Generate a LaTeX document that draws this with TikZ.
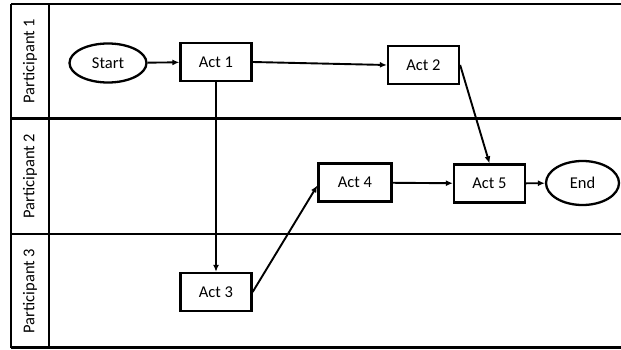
\documentclass[tikz,border=0pt]{standalone}
\usepackage{fontspec}
\setmainfont{Carlito}
\usetikzlibrary{arrows.meta,shapes.geometric}
\begin{document}
\begin{tikzpicture}[x=1pt,y=-1pt,
  lane/.style={line width=2.6pt},
  txt/.style={font=\fontsize{16.5}{18}\selectfont},
  act/.style={txt, draw, line width=2.3pt, minimum width=71pt, minimum height=38pt, inner sep=0pt},
  term/.style={txt, draw, ellipse, line width=2.3pt, minimum width=77pt, minimum height=39pt, inner sep=0pt},
  lanelabel/.style={txt, rotate=90},
  flow/.style={line width=1.9pt, -{Latex[length=7pt,width=6pt]}}]
\useasboundingbox (0,0) rectangle (621,350);

% swimlane frame
\draw[lane] (11,4) -- (621,4);
\draw[lane] (11,118.5) -- (621,118.5);
\draw[lane] (11,234) -- (621,234);
\draw[lane] (11,347.5) -- (621,347.5);
\draw[lane] (11,4) -- (11,347.5);
\draw[lane] (49,4) -- (49,347.5);

\node[lanelabel] (p1) at (30,61) {Participant 1};
\node[lanelabel] (p2) at (30,176) {Participant 2};
\node[lanelabel] (p3) at (30,291) {Participant 3};

% activities
\node[term] (start) at (108,63) {Start};
\node[act] (act1) at (216,62) {Act 1};
\node[act] (act2) at (423.5,65) {Act 2};
\node[act] (act3) at (216,292) {Act 3};
\node[act, minimum width=73pt] (act4) at (355,182.5) {Act 4};
\node[act] (act5) at (489.5,183.5) {Act 5};
\node[term, minimum width=73pt, minimum height=44pt] (end) at (582.5,183) {End};

% flows
\draw[flow] (start) -- (act1);
\draw[flow] (act1.east) -- (act2.west);
\draw[flow] (act1.south) -- (act3.north);
\draw[flow] (act2.east) -- (act5.north);
\draw[flow] (act3.east) -- ([yshift=-3pt]act4.west);
\draw[flow] (act4) -- (act5);
\draw[flow] (act5) -- (end);
\end{tikzpicture}
\end{document}
